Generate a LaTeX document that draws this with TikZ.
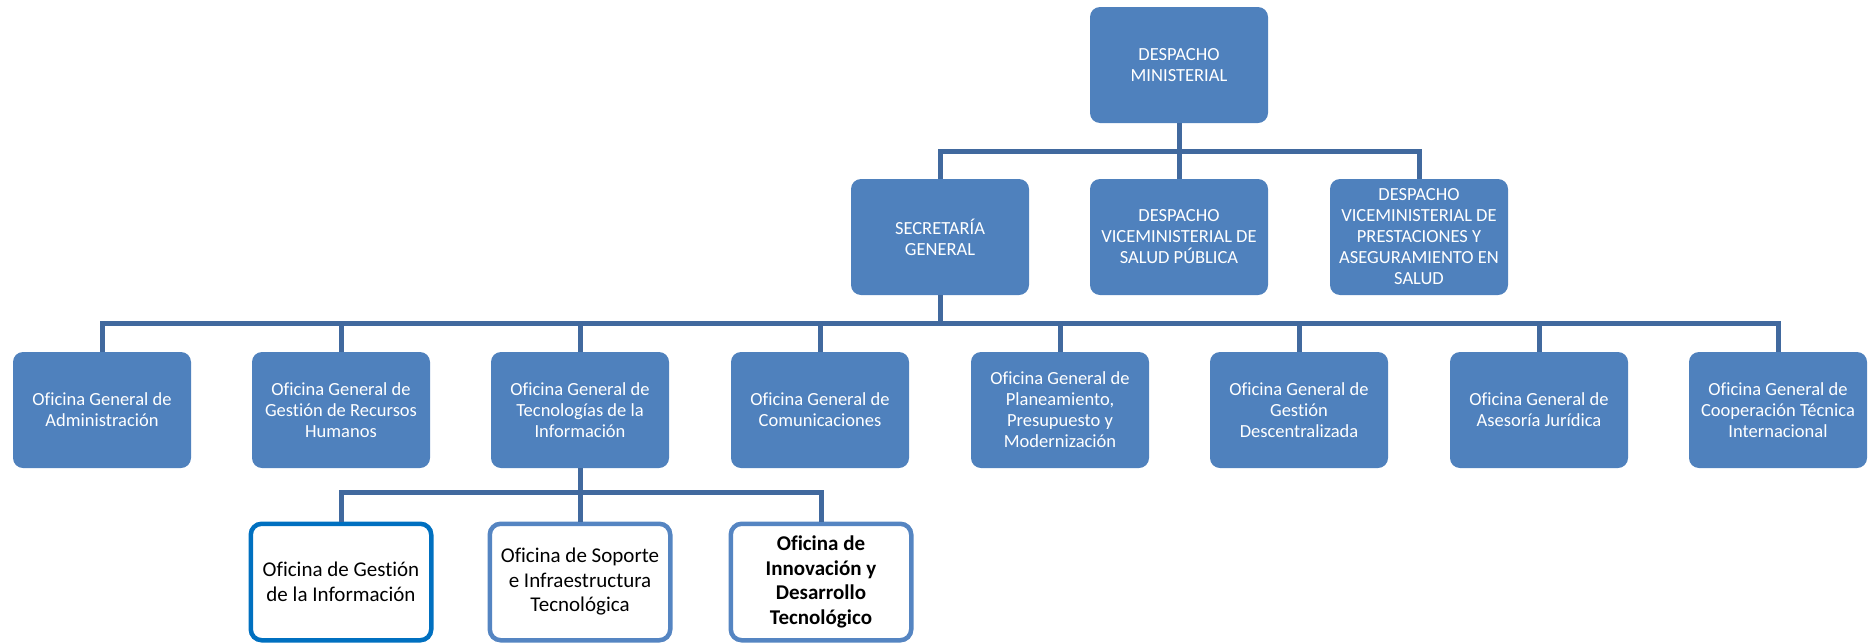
\documentclass[tikz,border=0pt]{standalone}
\usepackage{fontspec}
\setmainfont{Carlito}[Ligatures={NoCommon}]
\definecolor{boxfill}{HTML}{4F81BD}
\definecolor{connc}{HTML}{41699E}
\definecolor{darkb}{HTML}{0070C0}
\definecolor{lightb}{HTML}{5585C2}
\tikzset{
  bluebox/.style={fill=boxfill, rounded corners=10pt, minimum width=178pt, minimum height=116pt,
    text=white, align=center, inner sep=2pt, font=\fontsize{18.5}{21}\selectfont},
  whitebox/.style={fill=white, draw=lightb, line width=4.5pt, rounded corners=11pt,
    minimum width=180.5pt, minimum height=116.5pt, text=black, align=center, inner sep=2pt,
    font=\fontsize{21}{24.5}\selectfont},
  conn/.style={draw=connc, line width=5pt, line join=miter}
}
\begin{document}
\begin{tikzpicture}[x=1pt,y=1pt]
\useasboundingbox (0,0) rectangle (1868,-643);
% row 1
\node[bluebox] (dm) at (1179,-65) {DESPACHO\\MINISTERIAL};
% row 2
\node[bluebox] (sg) at (940,-237) {SECRETARÍA\\GENERAL};
\node[bluebox] (vsp) at (1179,-237) {DESPACHO\\VICEMINISTERIAL DE\\SALUD PÚBLICA};
\node[bluebox] (vps) at (1419,-237) {DESPACHO\\VICEMINISTERIAL DE\\PRESTACIONES Y\\ASEGURAMIENTO EN\\SALUD};
% row 3
\node[bluebox] (o1) at (102,-410) {Oficina General de\\Administración};
\node[bluebox] (o2) at (341,-410) {Oficina General de\\Gestión de Recursos\\Humanos};
\node[bluebox] (o3) at (580,-410) {Oficina General de\\Tecnologías de la\\Información};
\node[bluebox] (o4) at (820,-410) {Oficina General de\\Comunicaciones};
\node[bluebox] (o5) at (1060,-410) {Oficina General de\\Planeamiento,\\Presupuesto y\\Modernización};
\node[bluebox] (o6) at (1299,-410) {Oficina General de\\Gestión\\Descentralizada};
\node[bluebox] (o7) at (1539,-410) {Oficina General de\\Asesoría Jurídica};
\node[bluebox] (o8) at (1778,-410) {Oficina General de\\Cooperación Técnica\\Internacional};
% row 4
\node[whitebox, draw=darkb] (t1) at (341,-582) {Oficina de Gestión\\de la Información};
\node[whitebox] (t2) at (580,-582) {Oficina de Soporte\\e Infraestructura\\Tecnológica};
\node[whitebox, font=\fontsize{21}{24.5}\selectfont\bfseries] (t3) at (821,-582) {Oficina de\\Innovación y\\Desarrollo\\Tecnológico};
% bar levels
\coordinate (b1) at (0,-151);
\coordinate (b2) at (0,-323);
\coordinate (b3) at (0,-492);
% connectors level 1
\draw[conn] (dm.south) -- (dm.south |- b1);
\draw[conn] (sg.north) -- (sg.north |- b1) -- (vps.north |- b1) -- (vps.north);
\draw[conn] (vsp.north) -- (vsp.north |- b1);
% connectors level 2
\draw[conn] (sg.south) -- (sg.south |- b2);
\draw[conn] (o1.north) -- (o1.north |- b2) -- (o8.north |- b2) -- (o8.north);
\foreach \n in {o2,o3,o4,o5,o6,o7} \draw[conn] (\n.north) -- (\n.north |- b2);
% connectors level 3
\draw[conn] (o3.south) -- (o3.south |- b3);
\draw[conn] (t1.north) -- (t1.north |- b3) -- (t3.north |- b3) -- (t3.north);
\draw[conn] (t2.north) -- (t2.north |- b3);
\end{tikzpicture}
\end{document}
